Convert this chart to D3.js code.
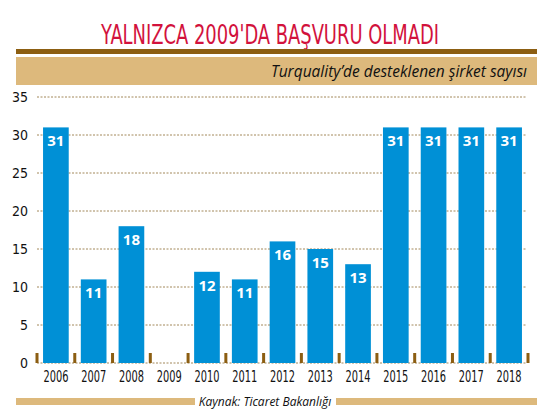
<!DOCTYPE html><html><head><meta charset="utf-8"><script src="https://cdn.jsdelivr.net/npm/d3@7"></script>
<style>body{margin:0;background:#fff}</style></head><body><svg id="c" width="537" height="415"></svg><script>
const years=["2006","2007","2008","2009","2010","2011","2012","2013","2014","2015","2016","2017","2018"];
const values=[31,11,18,0,12,11,16,15,13,31,31,31,31];
const yTicks=[0,5,10,15,20,25,30,35];
const svg=d3.select("#c");
const cond="'DejaVu Sans Condensed','Roboto',sans-serif";
svg.append("text").attr("x",270).attr("y",44).attr("text-anchor","middle").attr("fill","#d2123c")
 .attr("font-family",cond).attr("font-weight","normal").attr("font-size",27).attr("textLength",338).attr("lengthAdjust","spacingAndGlyphs").text("YALNIZCA 2009'DA BAŞVURU OLMADI");
svg.append("rect").attr("x",16).attr("y",49).attr("width",521).attr("height",5).attr("fill","#8c5e12");
svg.append("rect").attr("x",16).attr("y",57).attr("width",521).attr("height",28).attr("fill","#ddb97c");
svg.append("text").attr("x",527).attr("y",77).attr("text-anchor","end").attr("font-family","'Open Sans',sans-serif")
 .attr("font-style","italic").attr("font-size",15.5).attr("fill","#111").text("Turquality’de desteklenen şirket sayısı");
const x=d3.scaleBand().domain(years).range([37,528]).paddingInner(0.32).paddingOuter(0.16);
const y=d3.scaleLinear().domain([0,35]).range([363,97]);
svg.append("g").selectAll("line").data(yTicks).join("line")
 .attr("x1",37).attr("x2",527).attr("y1",d=>y(d)).attr("y2",d=>y(d)).attr("stroke","#8c6a30").attr("stroke-width",0.8).attr("stroke-dasharray","2,1.5");
const ya=svg.append("g").attr("transform","translate(31,0)").call(d3.axisLeft(y).tickValues(yTicks).tickSize(0).tickFormat(d3.format("d")));
ya.select(".domain").remove();
ya.selectAll("text").attr("font-family",cond).attr("font-size",14).attr("fill","#111").attr("dy","0.35em");
svg.append("g").selectAll("rect").data(values).join("rect")
 .attr("x",(d,i)=>x(years[i])).attr("width",x.bandwidth()).attr("y",d=>y(d)).attr("height",d=>y(0)-y(d)).attr("fill","#0090d6");
const lab=years.map((yr,i)=>({yr,v:values[i]})).filter(d=>d.v>0);
svg.append("g").selectAll("text").data(lab).join("text")
 .attr("x",d=>x(d.yr)+x.bandwidth()/2).attr("y",d=>y(d.v)+19).attr("text-anchor","middle")
 .attr("font-family","'Open Sans',sans-serif").attr("font-weight","bold").attr("font-size",15).attr("fill","#fff").text(d=>d.v);
const step=x.step();
const bounds=d3.range(years.length+1).map(i=>x(years[0])-step*0.16+i*step);
svg.append("g").selectAll("rect").data(bounds).join("rect")
 .attr("x",d=>d-1.5).attr("width",3).attr("y",353).attr("height",10).attr("fill","#8c5e12");
const xa=svg.append("g").attr("transform","translate(0,365)").call(d3.axisBottom(x).tickSize(0));
xa.select(".domain").remove();
xa.selectAll("text").attr("font-family",cond).attr("font-size",15).attr("fill","#111").attr("dy","0.9em")
 .attr("textLength",25).attr("lengthAdjust","spacingAndGlyphs");
svg.append("rect").attr("x",16).attr("y",398).attr("width",179).attr("height",7).attr("fill","#ddb97c");
svg.append("rect").attr("x",336).attr("y",398).attr("width",201).attr("height",7).attr("fill","#ddb97c");
svg.append("text").attr("x",265).attr("y",406).attr("text-anchor","middle").attr("font-family","'Open Sans',sans-serif")
 .attr("font-style","italic").attr("font-size",12).attr("fill","#111").text("Kaynak: Ticaret Bakanlığı");
</script></body></html>
